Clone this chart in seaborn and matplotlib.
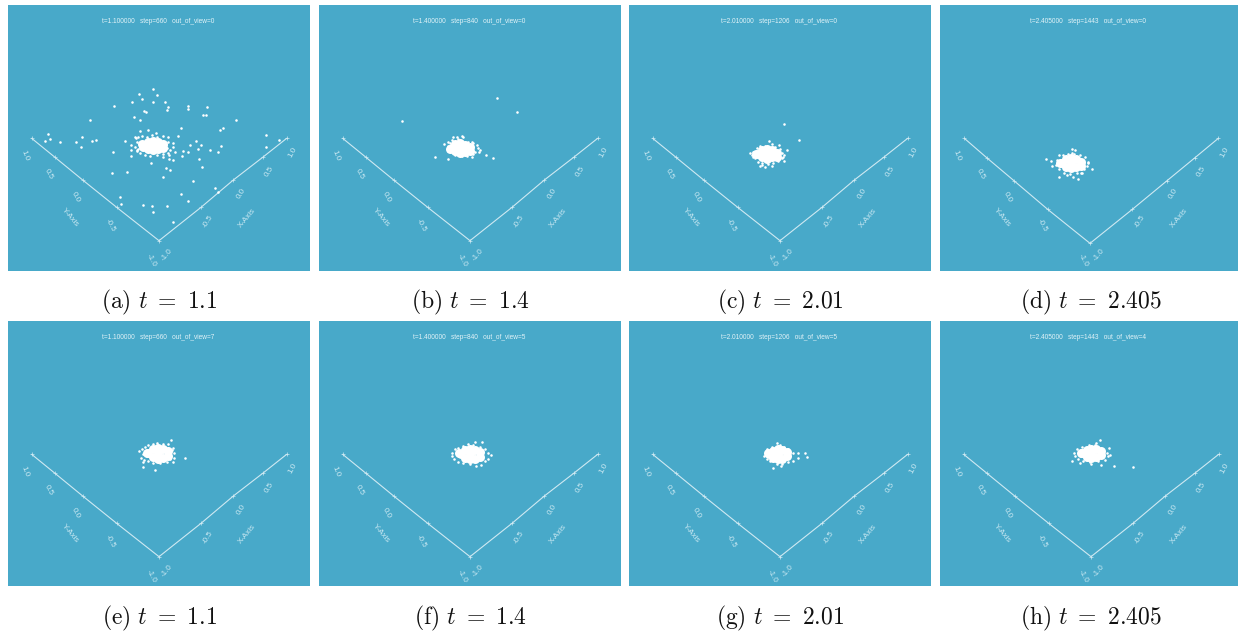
import matplotlib
matplotlib.use("Agg")
import matplotlib.pyplot as plt
import pandas as pd
import seaborn as sns

FIG_W, FIG_H = 1238, 636
BG = "#48a9c9"
LABEL_COLOR = "#cdeaf3"
SMALL_FONT = "Liberation Sans"

captions = ["(a)", "(b)", "(c)", "(d)", "(e)", "(f)", "(g)", "(h)"]
times = ["1.1", "1.4", "2.01", "2.405", "1.1", "1.4", "2.01", "2.405"]
headers = [
    "t=1.100000   step=660   out_of_view=0",
    "t=1.400000   step=840   out_of_view=0",
    "t=2.010000   step=1206   out_of_view=0",
    "t=2.405000   step=1443   out_of_view=0",
    "t=1.100000   step=660   out_of_view=7",
    "t=1.400000   step=840   out_of_view=5",
    "t=2.010000   step=1206   out_of_view=5",
    "t=2.405000   step=1443   out_of_view=4",
]

# panel frames in pixels: left, top, width, height
frame_left = [8, 319, 629, 940, 8, 319, 629, 940]
frame_top = [5, 5, 5, 5, 321, 321, 321, 321]
frame_w = [302, 302, 302, 298, 302, 302, 302, 298]
frame_h = [266, 266, 266, 266, 265, 265, 265, 265]
caption_x = [159, 470, 780, 1091, 159, 470, 780, 1091]
caption_y = [302, 302, 302, 302, 618, 618, 618, 618]

# all marks below are read in units of 1/3 pixel, crop_dx/crop_dy is the panel corner
crop_dx = [24, 12, 12, 15, 24, 12, 12, 15]
crop_dy = 15

# projected axes, tip of Y -> origin -> tip of X
arm_x = [71, 141, 224, 326, 453, 579, 676, 764, 836]
arm_y = [400, 457, 525, 607, 707, 607, 525, 457, 400]
arm_x_d = [73, 140, 223, 323, 450, 577, 680, 765, 835]
arm_y_d = [400, 458, 528, 613, 715, 613, 528, 458, 400]

axis_labels = ["1.0", "0.5", "0.0", "-0.5", "Y-Axis", "-1.0", "1.0", "0.5", "0.0", "-0.5", "X-Axis", "-1.0"]
axis_label_x = [51, 121, 204, 306, 186, 431, 854, 783, 700, 599, 718, 476]
axis_label_y = [452, 508, 577, 660, 637, 765, 443, 500, 567, 650, 640, 750]
axis_label_rot = [-68, -62, -62, -62, -50, -62, 62, 58, 58, 58, 50, 50]

# scattered particles
dots_a_x = [460, 417, 470, 427, 396, 459, 494, 343, 504, 502, 565, 565, 620, 433, 437, 608, 618, 402, 419, 270, 708, 668, 660, 543, 420, 445, 468, 144, 535, 798, 245, 151, 135, 180, 229, 289, 275, 242, 375, 405, 836, 587, 603, 571, 662, 798, 593, 630, 654, 548, 565, 526, 340, 394, 393, 410, 394, 545, 506, 508, 519, 490, 597, 454, 607, 498, 510, 335, 381, 488, 579, 644, 653, 543, 359, 564, 362, 428, 455, 500, 458, 520,
            408, 415, 425, 455, 470, 490, 503, 505, 518, 520, 510, 505, 490, 470, 450, 435, 420, 412, 405, 410, 440, 500, 497, 415]
dots_a_y = [267, 282, 285, 298, 306, 307, 306, 317, 322, 330, 318, 327, 320, 332, 335, 345, 345, 351, 361, 360, 361, 384, 389, 385, 394, 390, 398, 401, 408, 406, 412, 418, 424, 426, 425, 419, 423, 442, 422, 410, 420, 423, 435, 435, 437, 442, 447, 449, 457, 452, 455, 455, 455, 435, 450, 452, 467, 467, 465, 477, 480, 472, 478, 490, 502, 505, 510, 518, 516, 530, 543, 565, 577, 581, 590, 604, 612, 615, 618, 619, 635, 667,
            415, 412, 408, 405, 412, 408, 412, 425, 428, 440, 450, 458, 462, 465, 468, 465, 460, 450, 440, 425, 410, 445, 435, 447]
dots_b_x = [546, 606, 262, 360, 399, 514, 535, 386, 442, 415, 470, 493, 398,
            400, 405, 412, 428, 445, 460, 475, 485, 490, 480, 475, 455, 440, 420, 400, 495, 470, 425]
dots_b_y = [295, 336, 364, 472, 476, 466, 475, 432, 408, 412, 470, 455, 425,
            438, 428, 420, 418, 412, 425, 430, 435, 445, 455, 462, 468, 468, 465, 452, 450, 425, 412]
dots_c_x = [476, 521, 432, 461, 485, 374, 478, 477, 404, 420, 440,
            385, 380, 390, 400, 412, 428, 445, 458, 470, 472, 465, 450, 440, 420, 405, 395, 475, 385, 412, 455]
dots_c_y = [373, 421, 422, 435, 450, 459, 466, 484, 498, 502, 497,
            455, 465, 475, 485, 490, 492, 488, 484, 475, 460, 447, 440, 433, 437, 437, 445, 470, 470, 496, 478]
dots_d_x = [332, 349, 472, 371, 428, 440, 415, 410, 420, 412, 395, 352,
            365, 372, 385, 400, 418, 435, 450, 458, 456, 448, 438, 425, 405, 388, 372, 362, 445, 460]
dots_d_y = [476, 484, 506, 530, 536, 520, 530, 448, 450, 458, 525, 497,
            480, 465, 465, 462, 462, 465, 472, 485, 497, 508, 520, 520, 522, 518, 508, 495, 490, 490]
dots_e_x = [514, 554, 465, 429, 428, 417,
            422, 425, 435, 445, 460, 472, 490, 505, 518, 522, 522, 518, 500, 480, 460, 445, 432, 428, 510, 516]
dots_e_y = [372, 427, 461, 452, 438, 405,
            425, 400, 393, 388, 385, 382, 385, 385, 395, 410, 425, 438, 438, 442, 440, 435, 432, 415, 430, 402]
dots_f_x = [480, 500,
            412, 410, 420, 430, 445, 458, 475, 495, 510, 518, 528, 520, 510, 497, 482, 465, 445, 428, 418]
dots_f_y = [378, 378,
            410, 420, 398, 395, 390, 383, 388, 392, 400, 412, 418, 430, 435, 448, 450, 445, 442, 438, 430]
dots_g_x = [540, 545, 445, 468, 455,
            418, 425, 440, 465, 478, 490, 505, 520, 518, 505, 490, 470, 455, 435, 425]
dots_g_y = [412, 422, 455, 450, 380,
            420, 400, 392, 388, 392, 400, 410, 412, 425, 435, 438, 445, 445, 435, 430]
dots_h_x = [495, 482, 523, 524, 536, 593, 412, 436, 467, 498,
            418, 425, 440, 462, 480, 500, 515, 518, 510, 490, 465, 445, 430, 420]
dots_h_y = [371, 382, 395, 417, 450, 454, 435, 440, 445, 446,
            410, 400, 392, 388, 388, 400, 410, 420, 432, 436, 438, 435, 428, 420]

# dense middle of each cloud
core_a_x = [425, 430, 445, 445, 460, 460, 460, 475, 475, 490, 490]
core_a_y = [432, 442, 425, 448, 423, 437, 450, 425, 448, 432, 445]
core_b_x = [405, 410, 420, 420, 435, 435, 435, 450, 450, 465, 465]
core_b_y = [447, 445, 432, 452, 428, 445, 460, 435, 455, 440, 452]
core_c_x = [392, 398, 410, 410, 425, 425, 425, 440, 440, 455, 455]
core_c_y = [462, 463, 450, 472, 447, 463, 478, 450, 472, 458, 470]
core_d_x = [375, 380, 392, 392, 408, 408, 408, 424, 424, 438, 438]
core_d_y = [490, 490, 478, 500, 475, 490, 505, 478, 502, 485, 497]
core_e_x = [440, 445, 458, 458, 473, 473, 473, 488, 488, 503, 503]
core_e_y = [410, 412, 400, 424, 397, 412, 428, 398, 425, 405, 420]
core_f_x = [432, 437, 450, 450, 465, 465, 465, 480, 480, 495, 495]
core_f_y = [412, 415, 403, 425, 400, 415, 430, 402, 428, 408, 422]
core_g_x = [428, 432, 445, 445, 458, 458, 458, 472, 472, 487, 487]
core_g_y = [412, 415, 404, 425, 400, 415, 430, 402, 428, 408, 420]
core_h_x = [437, 442, 455, 455, 468, 468, 468, 482, 482, 497, 497]
core_h_y = [410, 412, 402, 422, 398, 412, 426, 400, 424, 406, 418]

dots = [(dots_a_x, dots_a_y), (dots_b_x, dots_b_y), (dots_c_x, dots_c_y), (dots_d_x, dots_d_y),
        (dots_e_x, dots_e_y), (dots_f_x, dots_f_y), (dots_g_x, dots_g_y), (dots_h_x, dots_h_y)]
cores = [(core_a_x, core_a_y), (core_b_x, core_b_y), (core_c_x, core_c_y), (core_d_x, core_d_y),
         (core_e_x, core_e_y), (core_f_x, core_f_y), (core_g_x, core_g_y), (core_h_x, core_h_y)]


def draw_panel(fig, i):
    w, h = frame_w[i], frame_h[i]
    ax = fig.add_axes([frame_left[i] / FIG_W, 1 - (frame_top[i] + h) / FIG_H, w / FIG_W, h / FIG_H])
    ax.set_facecolor(BG)
    ax.set_xlim(0, w * 3)
    ax.set_ylim(h * 3, 0)

    ax_x, ax_y = (arm_x_d, arm_y_d) if i == 3 else (arm_x, arm_y)
    sns.lineplot(x=ax_x, y=ax_y, sort=False, estimator=None, color="#cfe9f2", linewidth=0.8, ax=ax)
    sns.scatterplot(x=ax_x, y=ax_y, marker="+", s=12, color="#cfe9f2", linewidth=0.5, ax=ax)

    for lab, lx, ly, rot in zip(axis_labels, axis_label_x, axis_label_y, axis_label_rot):
        ax.text(lx, ly, lab, rotation=rot, rotation_mode="anchor", ha="center", va="center",
                fontsize=5.8, color=LABEL_COLOR, family=SMALL_FONT)
    ax.text(w * 3 / 2 - 3, 49, headers[i], ha="center", va="center", fontsize=4.7,
            color="#e2f3f8", family=SMALL_FONT)

    df = pd.DataFrame({"x": dots[i][0], "y": dots[i][1]})
    df_core = pd.DataFrame({"x": cores[i][0], "y": cores[i][1]})
    for d in (df, df_core):
        d["x"] -= crop_dx[i]
        d["y"] -= crop_dy
    sns.scatterplot(data=df_core, x="x", y="y", s=42, color="white", linewidth=0, ax=ax, zorder=4)
    sns.scatterplot(data=df, x="x", y="y", s=3.4, color="white", linewidth=0, ax=ax, zorder=5)

    ax.set_xlabel("")
    ax.set_ylabel("")
    ax.set_xticks([])
    ax.set_yticks([])
    for s in ax.spines.values():
        s.set_visible(False)

    fig.text(caption_x[i] / FIG_W, 1 - caption_y[i] / FIG_H,
             r"$\mathrm{%s}\ t\ =\ %s$" % (captions[i], times[i]),
             ha="center", va="center", fontsize=17, color="#111111")


def main():
    sns.set_theme(style="white")
    plt.rcParams["mathtext.fontset"] = "cm"
    fig = plt.figure(figsize=(FIG_W / 100, FIG_H / 100), dpi=100, facecolor="white")
    for i in range(8):
        draw_panel(fig, i)
    fig.savefig("out.png", dpi=100)


if __name__ == "__main__":
    main()
